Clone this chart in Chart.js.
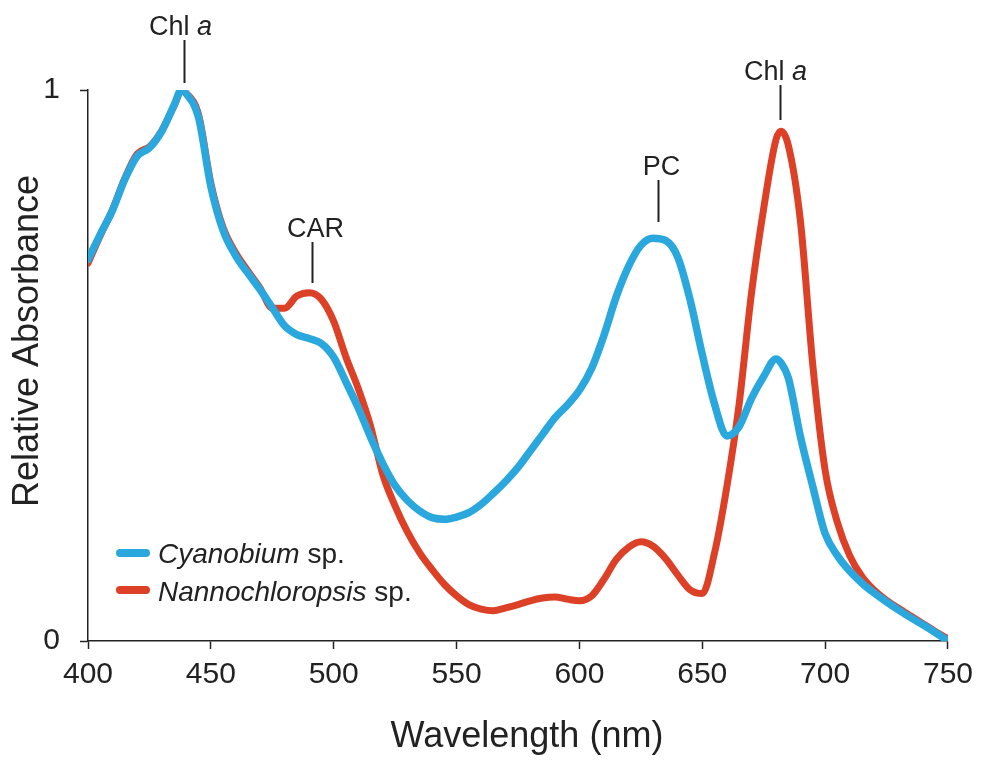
<!DOCTYPE html>
<html>
<head>
<meta charset="utf-8">
<script src="https://cdn.jsdelivr.net/npm/chart.js@4.4.0/dist/chart.umd.min.js"></script>
<style>
  body { margin: 0; background: #fff; }
</style>
</head>
<body>
<canvas id="spectra" width="981" height="762"></canvas>
<script>
// wavelengths (nm) and relative absorbance
const wavelength = [400, 405, 410, 415, 420, 425, 430, 435, 438, 440, 445, 450, 455, 460, 465, 470, 475, 480, 485, 490,
  495, 500, 505, 510, 515, 520, 525, 530, 535, 540, 545, 550, 555, 560, 565, 570, 575, 580, 585, 590,
  595, 600, 605, 610, 615, 620, 625, 630, 635, 640, 645, 650, 655, 660, 665, 670, 675, 680, 682, 685,
  690, 695, 700, 705, 710, 715, 720, 725, 730, 735, 740, 745, 750];

const cyanobium = [0.692, 0.738, 0.782, 0.838, 0.880, 0.895, 0.925, 0.972, 1.000, 0.993, 0.950, 0.825, 0.745, 0.700, 0.668, 0.638, 0.605, 0.572, 0.556, 0.549,
  0.540, 0.515, 0.470, 0.423, 0.370, 0.322, 0.282, 0.255, 0.236, 0.224, 0.221, 0.225, 0.233, 0.248, 0.268, 0.290, 0.315, 0.345, 0.375, 0.405,
  0.428, 0.455, 0.495, 0.555, 0.625, 0.680, 0.718, 0.731, 0.727, 0.697, 0.620, 0.520, 0.430, 0.372, 0.389, 0.440, 0.480, 0.512, 0.505, 0.478,
  0.370, 0.280, 0.195, 0.155, 0.127, 0.105, 0.087, 0.071, 0.056, 0.042, 0.029, 0.015, 0.000];

const nannochloropsis = [0.686, 0.736, 0.783, 0.840, 0.884, 0.897, 0.926, 0.971, 0.998, 0.994, 0.955, 0.831, 0.750, 0.705, 0.672, 0.641, 0.604, 0.604, 0.626, 0.632,
  0.620, 0.580, 0.515, 0.458, 0.390, 0.302, 0.245, 0.198, 0.160, 0.130, 0.103, 0.082, 0.066, 0.058, 0.055, 0.060, 0.066, 0.073, 0.078, 0.080,
  0.076, 0.073, 0.082, 0.112, 0.148, 0.170, 0.180, 0.172, 0.150, 0.120, 0.093, 0.086, 0.160, 0.280, 0.430, 0.630, 0.785, 0.910, 0.925, 0.900,
  0.760, 0.500, 0.310, 0.215, 0.155, 0.117, 0.092, 0.074, 0.059, 0.045, 0.031, 0.017, 0.004];

const xTicks = [400, 450, 500, 550, 600, 650, 700, 750];
const yTicks = [0, 1];

// peak marks: wavelength, label, italic part
const peakNm = [439, 491, 632, 681.5];
const peakText = ['Chl ', 'CAR', 'PC', 'Chl '];
const peakItalic = ['a', '', '', 'a'];

const FONT = '"Liberation Sans", Arial, Helvetica, sans-serif';
const INK = '#222';
const BLUE = '#2aa7dc';
const RED = '#dc4127';

Chart.defaults.font.family = FONT;
Chart.defaults.color = INK;

function drawMixed(ctx, parts, cx, y, size) {
  // parts: [[text, italic], ...] drawn centred on cx
  let widths = parts.map(p => {
    ctx.font = (p[1] ? 'italic ' : '') + size + 'px ' + FONT;
    return ctx.measureText(p[0]).width;
  });
  let total = widths.reduce((a, b) => a + b, 0);
  let x = cx - total / 2;
  ctx.textAlign = 'left';
  ctx.textBaseline = 'alphabetic';
  parts.forEach((p, i) => {
    ctx.font = (p[1] ? 'italic ' : '') + size + 'px ' + FONT;
    ctx.fillText(p[0], x, y);
    x += widths[i];
  });
}

const extras = {
  id: 'extras',
  afterDraw(chart) {
    const ctx = chart.ctx;
    const xs = chart.scales.x;
    ctx.save();
    ctx.fillStyle = INK;
    ctx.strokeStyle = INK;

    // axis titles
    ctx.font = '36px ' + FONT;
    ctx.textAlign = 'center';
    ctx.textBaseline = 'alphabetic';
    ctx.fillText('Wavelength (nm)', 527, 747);
    ctx.save();
    ctx.translate(38, 341);
    ctx.rotate(-Math.PI / 2);
    ctx.fillText('Relative Absorbance', 0, 0);
    ctx.restore();

    // peak labels with tick lines
    const lineTop = [40, 242, 180, 85];
    const lineBot = [83, 283, 222, 120];
    const textDx = [-4, 3, 3, -5];
    ctx.lineWidth = 2;
    peakNm.forEach((nm, i) => {
      const px = Math.round(xs.getPixelForValue(nm)) + 0.5;
      ctx.beginPath();
      ctx.moveTo(px, lineTop[i]);
      ctx.lineTo(px, lineBot[i]);
      ctx.stroke();
      const parts = [[peakText[i], false]];
      if (peakItalic[i]) parts.push([peakItalic[i], true]);
      drawMixed(ctx, parts, px + textDx[i], lineTop[i] - 5, 27);
    });

    // legend
    const rows = [
      { color: BLUE, y: 553, base: 563, parts: [['Cyanobium', true], [' sp.', false]] },
      { color: RED, y: 590, base: 601, parts: [['Nannochloropsis', true], [' sp.', false]] }
    ];
    rows.forEach(r => {
      ctx.strokeStyle = r.color;
      ctx.lineWidth = 8;
      ctx.lineCap = 'round';
      ctx.beginPath();
      ctx.moveTo(120, r.y);
      ctx.lineTo(146, r.y);
      ctx.stroke();
      let x = 158;
      ctx.textAlign = 'left';
      r.parts.forEach(p => {
        ctx.font = (p[1] ? 'italic ' : '') + '28px ' + FONT;
        ctx.fillText(p[0], x, r.base);
        x += ctx.measureText(p[0]).width;
      });
    });
    ctx.restore();
  }
};

const axisStyle = {
  border: { color: INK, width: 1.5 },
  grid: { drawOnChartArea: false, tickLength: 8, tickColor: INK, tickWidth: 1.5 }
};

new Chart(document.getElementById('spectra'), {
  type: 'line',
  data: {
    datasets: [{
      label: 'Cyanobium sp.',
      data: wavelength.map((w, i) => ({ x: w, y: cyanobium[i] })),
      borderColor: BLUE,
      borderWidth: 7.5
    }, {
      label: 'Nannochloropsis sp.',
      data: wavelength.map((w, i) => ({ x: w, y: nannochloropsis[i] })),
      borderColor: RED,
      borderWidth: 7
    }]
  },
  options: {
    responsive: false,
    animation: false,
    devicePixelRatio: 1,
    layout: { padding: { top: 90, right: 29, left: 0, bottom: 0 } },
    elements: {
      point: { radius: 0 },
      line: { cubicInterpolationMode: 'monotone', borderCapStyle: 'round', borderJoinStyle: 'round', fill: false }
    },
    plugins: { legend: { display: false }, tooltip: { enabled: false } },
    scales: {
      x: {
        type: 'linear', min: 400, max: 750,
        ...axisStyle,
        afterBuildTicks: s => { s.ticks = xTicks.map(v => ({ value: v })); },
        afterFit: s => { s.height = 121; },
        ticks: { font: { size: 30 }, color: INK, padding: 8, maxRotation: 0 }
      },
      y: {
        min: 0, max: 1,
        ...axisStyle,
        afterBuildTicks: s => { s.ticks = yTicks.map(v => ({ value: v })); },
        afterFit: s => { s.width = 88; },
        ticks: { font: { size: 30 }, color: INK, padding: 20 }
      }
    }
  },
  plugins: [extras]
});
</script>
</body>
</html>
